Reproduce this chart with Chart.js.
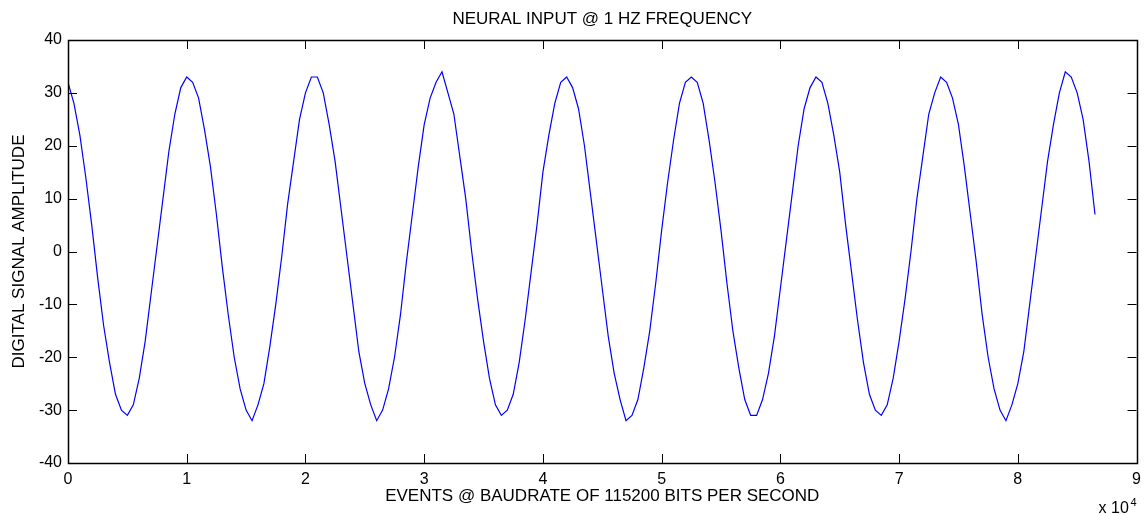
<!DOCTYPE html>
<html lang="en">
<head>
  <meta charset="UTF-8" />
  <title>Neural Input @ 1 Hz</title>
  <style>
    html, body { margin: 0; padding: 0; background: #fff; }
    canvas { display: block; }
  </style>
</head>
<body>
  <canvas id="signal-chart" width="1148" height="515"></canvas>

  <script src="https://cdn.jsdelivr.net/npm/chart.js"></script>
  <script>
    // samples, one every 500 events
    const EVENT_STEP = 500;
    const amplitude = [
      32, 28, 22, 14, 5, -5, -14, -21, -27, -30,
      -31, -29, -24, -17, -8, 1, 10, 19, 26, 31,
      33, 32, 29, 23, 16, 7, -3, -12, -20, -26,
      -30, -32, -29, -25, -18, -10, -1, 9, 17, 25,
      30, 33, 33, 30, 24, 17, 8, -1, -10, -19,
      -25, -29, -32, -30, -26, -20, -12, -2, 7, 16,
      24, 29, 32, 34, 30, 26, 18, 10, 0, -9,
      -17, -24, -29, -31, -30, -27, -21, -13, -4, 5,
      15, 22, 28, 32, 33, 31, 27, 20, 11, 2,
      -7, -16, -23, -28, -32, -31, -28, -22, -15, -6,
      4, 13, 21, 28, 32, 33, 32, 28, 21, 13,
      4, -6, -15, -22, -28, -31, -31, -28, -23, -16,
      -7, 2, 11, 20, 27, 31, 33, 32, 28, 22,
      15, 5, -4, -13, -21, -27, -30, -31, -29, -24,
      -17, -9, 0, 10, 18, 26, 30, 33, 32, 29,
      24, 16, 7, -2, -12, -20, -26, -30, -32, -29,
      -25, -19, -10, -1, 8, 17, 24, 30, 34, 33,
      30, 25, 17, 7
    ];
    const xTicks = [0, 10000, 20000, 30000, 40000, 50000, 60000, 70000, 80000, 90000];
    const yTicks = [-40, -30, -20, -10, 0, 10, 20, 30, 40];

    const points = amplitude.map((v, i) => ({ x: i * EVENT_STEP, y: v }));
    const FONT = '"Liberation Sans", Arial, Helvetica, sans-serif';

    // matlab style box: axis lines all round, ticks pointing inward
    const boxAxes = {
      id: 'boxAxes',
      afterDraw(chart) {
        const { ctx, chartArea: a, scales } = chart;
        const len = 9;
        ctx.save();
        ctx.strokeStyle = '#000';
        ctx.lineWidth = 1;
        ctx.beginPath();
        xTicks.forEach(v => {
          const px = Math.round(scales.x.getPixelForValue(v)) + 0.5;
          ctx.moveTo(px, a.bottom); ctx.lineTo(px, a.bottom - len);
          ctx.moveTo(px, a.top); ctx.lineTo(px, a.top + len);
        });
        yTicks.forEach(v => {
          const py = Math.round(scales.y.getPixelForValue(v)) + 0.5;
          ctx.moveTo(a.left, py); ctx.lineTo(a.left + len, py);
          ctx.moveTo(a.right, py); ctx.lineTo(a.right - len, py);
        });
        ctx.stroke();
        ctx.lineWidth = 1.5;
        ctx.strokeRect(Math.round(a.left) + 0.5, Math.round(a.top) + 0.5,
          Math.round(a.right - a.left), Math.round(a.bottom - a.top));

        // exponent label under the right end of the x axis
        ctx.fillStyle = '#000';
        ctx.textAlign = 'left';
        ctx.textBaseline = 'alphabetic';
        ctx.font = '16px ' + FONT;
        ctx.fillText('x 10', a.right - 38, 513);
        ctx.font = '11px ' + FONT;
        ctx.fillText('4', a.right - 6, 506);
        ctx.restore();
      }
    };

    new Chart(document.getElementById('signal-chart'), {
      type: 'line',
      data: {
        datasets: [{
          label: 'signal',
          data: points,
          borderColor: '#0000ff',
          borderWidth: 1.2,
          pointRadius: 0,
          tension: 0,
          fill: false
        }]
      },
      options: {
        responsive: false,
        animation: false,
        layout: { padding: { left: 0, right: 9, top: 0, bottom: 0 } },
        plugins: {
          legend: { display: false },
          tooltip: { enabled: false },
          title: {
            display: true,
            fullSize: false,
            text: 'NEURAL INPUT @ 1 HZ FREQUENCY',
            color: '#000',
            font: { family: FONT, size: 17, weight: 'normal' },
            padding: { top: 9, bottom: 10.6 }
          }
        },
        scales: {
          x: {
            type: 'linear',
            min: 0,
            max: 90000,
            afterBuildTicks: s => { s.ticks = xTicks.map(v => ({ value: v })); },
            afterFit: s => { s.height = 52; },
            grid: { display: false, drawTicks: false },
            border: { display: false },
            ticks: {
              padding: 7,
              color: '#000',
              font: { family: FONT, size: 16 },
              maxRotation: 0,
              callback: v => String(v / 10000)
            },
            title: {
              display: true,
              text: 'EVENTS @ BAUDRATE OF 115200 BITS PER SECOND',
              color: '#000',
              font: { family: FONT, size: 17 },
              padding: { top: 0, bottom: 8 }
            }
          },
          y: {
            min: -40,
            max: 40,
            afterBuildTicks: s => { s.ticks = yTicks.map(v => ({ value: v })); },
            afterFit: s => { s.width = 68; },
            grid: { display: false, drawTicks: false },
            border: { display: false },
            ticks: {
              padding: 6,
              color: '#000',
              font: { family: FONT, size: 16 }
            },
            title: {
              display: true,
              text: 'DIGITAL SIGNAL AMPLITUDE',
              color: '#000',
              font: { family: FONT, size: 17 },
              padding: { top: 9, bottom: 0 }
            }
          }
        }
      },
      plugins: [boxAxes]
    });
  </script>
</body>
</html>
